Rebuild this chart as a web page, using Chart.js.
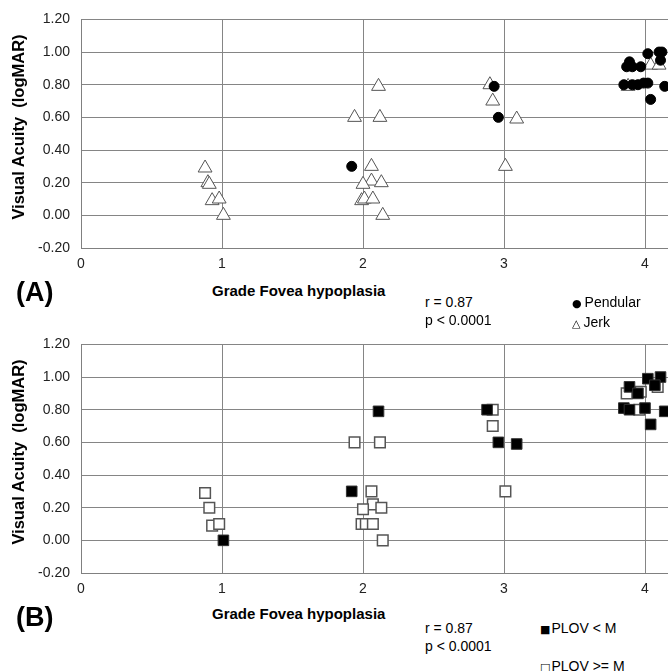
<!DOCTYPE html>
<html>
<head>
<meta charset="utf-8">
<script src="https://cdn.jsdelivr.net/npm/chart.js@4"></script>
<style>
  html, body { margin: 0; padding: 0; background: #fff; overflow: hidden; width: 668px; height: 671px; }
  body { position: relative; font-family: "Liberation Sans", Arial, sans-serif; color: #000; }
  .panel { position: absolute; left: 0; width: 800px; height: 275px; }
  .txt { position: absolute; white-space: nowrap; line-height: 1; transform: translateY(-50%); font-size: 14px; }
  .ytitle { position: absolute; white-space: nowrap; font-weight: bold; font-size: 16.5px; transform: translate(-50%, -50%) rotate(-90deg); }
  .b { font-weight: bold; }
  .sym { font-family: "DejaVu Sans", sans-serif; font-size: 11px; margin-right: 3px; }
</style>
</head>
<body>

<div class="panel" style="top:0px"><canvas id="chartA" width="800" height="275"></canvas></div>
<div class="panel" style="top:325px"><canvas id="chartB" width="800" height="275"></canvas></div>

<div class="ytitle" style="left:18px; top:127px">Visual Acuity&nbsp; (logMAR)</div>
<div class="txt b" style="left:16px; top:292px; font-size:27px">(A)</div>
<div class="txt b" style="left:212px; top:290px; font-size:15px">Grade Fovea hypoplasia</div>
<div class="txt" style="left:425px; top:302px">r = 0.87</div>
<div class="txt" style="left:425px; top:320px">p &lt; 0.0001</div>
<div class="txt" style="left:572px; top:302px"><span class="sym">●</span>Pendular</div>
<div class="txt" style="left:572px; top:322px"><span class="sym">△</span>Jerk</div>

<div class="ytitle" style="left:18px; top:452px">Visual Acuity&nbsp; (logMAR)</div>
<div class="txt b" style="left:16px; top:617px; font-size:27px">(B)</div>
<div class="txt b" style="left:212px; top:613px; font-size:15px">Grade Fovea hypoplasia</div>
<div class="txt" style="left:425px; top:628px">r = 0.87</div>
<div class="txt" style="left:425px; top:646px">p &lt; 0.0001</div>
<div class="txt" style="left:540px; top:628px"><span class="sym" style="margin-right:1px">■</span>PLOV &lt; M</div>
<div class="txt" style="left:540px; top:666px"><span class="sym" style="margin-right:1px">□</span>PLOV &gt;= M</div>

<script>
// tick values
const yTicks = [-0.2, 0, 0.2, 0.4, 0.6, 0.8, 1.0, 1.2];
const xTicks = [0, 1, 2, 3, 4, 5];

// panel A: nystagmus type
const pendularX = [1.92, 2.93, 2.96, 3.85, 3.91, 3.95, 3.99, 4.02, 4.14, 3.87, 3.91, 3.97, 3.89, 4.02, 4.10, 4.12, 4.11, 4.04];
const pendularY = [0.30, 0.79, 0.60, 0.80, 0.80, 0.80, 0.81, 0.81, 0.79, 0.91, 0.91, 0.91, 0.94, 0.99, 1.00, 1.00, 0.95, 0.71];
const jerkX = [0.88, 0.90, 0.91, 0.93, 0.98, 1.01, 1.94, 2.11, 2.12, 2.06, 2.06, 2.00, 2.13, 1.99, 2.01, 2.07, 2.14, 2.90, 2.92, 3.09, 3.01, 3.88, 4.04, 4.10];
const jerkY = [0.29, 0.20, 0.19, 0.09, 0.10, 0.00, 0.60, 0.79, 0.60, 0.30, 0.21, 0.19, 0.20, 0.09, 0.10, 0.10, 0.00, 0.80, 0.70, 0.59, 0.30, 0.79, 0.92, 0.92];

// panel B: PLOV
const plovLowX = [1.01, 1.92, 2.11, 2.88, 2.96, 3.09, 4.02, 4.11, 3.89, 4.07, 3.85, 3.89, 4.00, 4.14, 4.04, 3.95];
const plovLowY = [0.00, 0.30, 0.79, 0.80, 0.60, 0.59, 0.99, 1.00, 0.94, 0.95, 0.81, 0.80, 0.81, 0.79, 0.71, 0.90];
const plovHighX = [0.88, 0.91, 0.93, 0.98, 1.94, 2.12, 2.06, 2.07, 2.00, 2.13, 1.99, 2.02, 2.07, 2.14, 2.92, 2.92, 3.01, 4.09, 3.87, 3.97, 3.96];
const plovHighY = [0.29, 0.20, 0.09, 0.10, 0.60, 0.60, 0.30, 0.22, 0.19, 0.20, 0.10, 0.10, 0.10, 0.00, 0.80, 0.70, 0.30, 0.94, 0.90, 0.91, 0.80];

function pts(xs, ys) {
  return xs.map((x, i) => ({ x: x, y: ys[i] }));
}

function makeChart(id, datasets) {
  const ctx = document.getElementById(id).getContext('2d');
  return new Chart(ctx, {
    type: 'scatter',
    data: { datasets: datasets },
    options: {
      responsive: false,
      animation: false,
      layout: { padding: { top: 14, right: 14, left: 0, bottom: 0 } },
      plugins: { legend: { display: false }, tooltip: { enabled: false } },
      scales: {
        x: {
          type: 'linear',
          min: 0,
          max: 5,
          afterBuildTicks: s => { s.ticks = xTicks.map(v => ({ value: v })); },
          afterFit: s => { s.height = 27; },
          grid: { color: '#858585', lineWidth: 1, drawTicks: false },
          border: { color: '#808080', width: 1 },
          ticks: { padding: 8, color: '#222', font: { family: '"Liberation Sans", Arial', size: 14 } }
        },
        y: {
          type: 'linear',
          min: -0.2,
          max: 1.2,
          afterBuildTicks: s => { s.ticks = yTicks.map(v => ({ value: v })); },
          afterFit: s => { s.width = 81; },
          grid: { color: '#858585', lineWidth: 1, drawTicks: false },
          border: { color: '#808080', width: 1 },
          ticks: {
            padding: 11,
            color: '#222',
            font: { family: '"Liberation Sans", Arial', size: 14 },
            callback: v => v.toFixed(2)
          }
        }
      }
    }
  });
}

makeChart('chartA', [
  {
    label: 'Pendular',
    data: pts(pendularX, pendularY),
    pointStyle: 'circle',
    pointRadius: 5,
    backgroundColor: '#000',
    borderColor: '#000',
    borderWidth: 1
  },
  {
    label: 'Jerk',
    data: pts(jerkX, jerkY),
    pointStyle: 'triangle',
    pointRadius: 8,
    backgroundColor: '#fff',
    borderColor: '#555',
    borderWidth: 1
  }
]);

makeChart('chartB', [
  {
    label: 'PLOV < M',
    data: pts(plovLowX, plovLowY),
    pointStyle: 'rect',
    pointRadius: 7.5,
    backgroundColor: '#000',
    borderColor: '#333',
    borderWidth: 1
  },
  {
    label: 'PLOV >= M',
    data: pts(plovHighX, plovHighY),
    pointStyle: 'rect',
    pointRadius: 7.5,
    backgroundColor: '#fff',
    borderColor: '#555',
    borderWidth: 1.5
  }
]);
</script>
</body>
</html>
